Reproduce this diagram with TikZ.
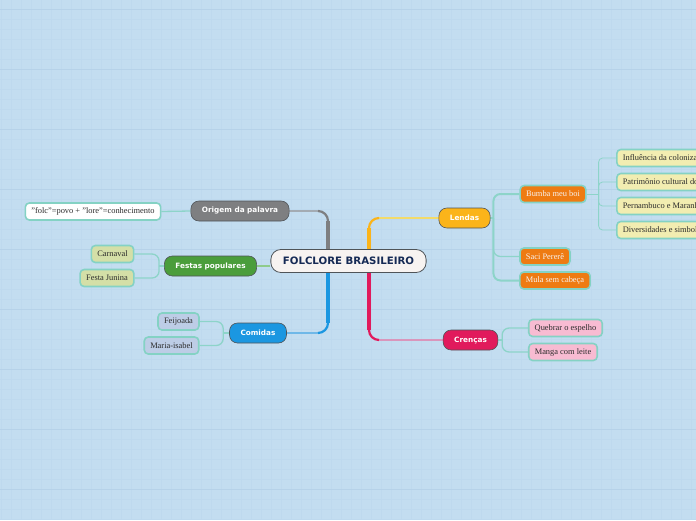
\documentclass[tikz,border=0pt]{standalone}
\usepackage{fontspec}
\setmainfont{Liberation Serif}
\newfontfamily\topicfont{DejaVu Sans}
\usetikzlibrary{positioning, backgrounds}
\definecolor{PaperBlue}{HTML}{C3DDF0}
\definecolor{GridMinor}{HTML}{BED9EE}
\definecolor{GridMajor}{HTML}{B6D2E9}
\definecolor{RootFill}{HTML}{F7F3F1}
\definecolor{RootText}{HTML}{152A55}
\definecolor{EdgeDark}{HTML}{4F5458}
\definecolor{TopicGray}{HTML}{7E7F81}
\definecolor{TopicGreen}{HTML}{4A9D3B}
\definecolor{TopicBlue}{HTML}{1B97E1}
\definecolor{TopicYellow}{HTML}{FBB41A}
\definecolor{TopicRed}{HTML}{E11A5C}
\definecolor{LeafEdge}{HTML}{84D2C4}
\definecolor{LeafLine}{HTML}{8DD4C9}
\definecolor{LeafOrange}{HTML}{EE7B12}
\definecolor{LeafCream}{HTML}{F2EDB1}
\definecolor{LeafGreen}{HTML}{D4DFA7}
\definecolor{LeafBlue}{HTML}{BDCDE6}
\definecolor{LeafPink}{HTML}{F8BBD2}
\definecolor{LeafText}{HTML}{2B2B2B}
\definecolor{GrayThin}{HTML}{A3ABB3}
\definecolor{GreenThin}{HTML}{8FCB8C}
\definecolor{BlueThin}{HTML}{6FB8E8}
\definecolor{YellowThin}{HTML}{F3DB6A}
\definecolor{RedThin}{HTML}{D996BC}
\tikzset{
  rootbox/.style={draw=EdgeDark, thick, rounded corners=10pt, fill=RootFill, text=RootText, minimum height=23pt, inner xsep=12pt, font=\topicfont\bfseries\fontsize{10.2}{12}\selectfont},
  topic/.style={draw=EdgeDark, semithick, rounded corners=8pt, text=white, minimum height=20pt, inner xsep=11pt, font=\topicfont\bfseries\fontsize{7.3}{8}\selectfont},
  graybox/.style={topic, fill=TopicGray},
  greenbox/.style={topic, fill=TopicGreen},
  bluebox/.style={topic, fill=TopicBlue},
  yellowbox/.style={topic, fill=TopicYellow},
  redbox/.style={topic, fill=TopicRed},
  leaf/.style={draw=LeafEdge, line width=1.6pt, rounded corners=4pt, text=LeafText, minimum height=17pt, inner xsep=6pt, inner ysep=0pt, font=\fontsize{8.4}{9}\selectfont},
  whiteleaf/.style={leaf, fill=white},
  greenleaf/.style={leaf, fill=LeafGreen},
  blueleaf/.style={leaf, fill=LeafBlue},
  orangeleaf/.style={leaf, fill=LeafOrange, text=RootFill},
  creamleaf/.style={leaf, fill=LeafCream, anchor=west},
  pinkleaf/.style={leaf, fill=LeafPink},
  leafline/.style={draw=LeafLine, line width=1.3pt, rounded corners=7pt},
  thinleaf/.style={draw=LeafLine, line width=0.8pt, rounded corners=4pt},
  branch/.style={line width=1.4pt},
  trunk/.style={line width=3.2pt},
  elbow/.style={line width=2.2pt, rounded corners=10pt}
}

\begin{document}
\begin{tikzpicture}[x=1pt, y=-1pt]
\useasboundingbox (0,0) rectangle (696,520);
\clip (0,0) rectangle (696,520);

% centre and main topics
\node[rootbox] (root) at (348.5,261) {FOLCLORE BRASILEIRO};
\node[graybox] (origem) at (240,211) {Origem da palavra};
\node[greenbox] (festas) at (210.5,266) {Festas populares};
\node[bluebox] (comidas) at (258,333) {Comidas};
\node[yellowbox] (lendas) at (464.5,218) {Lendas};
\node[redbox] (crencas) at (470.5,340) {Crenças};

% leaves
\node[whiteleaf] (folc) at (93,211.5) {"folc"=povo + "lore"=conhecimento};
\node[greenleaf] (carnaval) at (112.5,254) {Carnaval};
\node[greenleaf] (junina) at (107,278) {Festa Junina};
\node[blueleaf] (feijoada) at (178.5,321.5) {Feijoada};
\node[blueleaf] (mariaisabel) at (171.5,345.5) {Maria-isabel};
\node[orangeleaf] (bumba) at (553,194) {Bumba meu boi};
\node[orangeleaf] (saci) at (545,256.5) {Saci Pererê};
\node[orangeleaf] (mula) at (555,280.5) {Mula sem cabeça};
\node[creamleaf] (influencia) at (616,158) {Influência da colonização};
\node[creamleaf] (patrimonio) at (616,182) {Patrimônio cultural do Brasil};
\node[creamleaf] (pernambuco) at (616,206) {Pernambuco e Maranhão};
\node[creamleaf] (diversidades) at (616,230) {Diversidades e simbologias};
\node[pinkleaf] (quebrar) at (565.5,328) {Quebrar o espelho};
\node[pinkleaf] (manga) at (563,352) {Manga com leite};

% corners of the main branches
\coordinate (graycorner) at ([xshift=-20.5pt]root.north |- origem.east);
\coordinate (bluecorner) at ([xshift=-20.5pt]root.south |- comidas.east);
\coordinate (yellowcorner) at ([xshift=20.5pt]root.north |- lendas.west);
\coordinate (redcorner) at ([xshift=20.5pt]root.south |- crencas.west);

\begin{scope}[on background layer]
% paper with grid
\fill[PaperBlue] (0,0) rectangle (696,520);
\foreach \gx in {1,11,...,691}
  \draw[GridMinor, line width=0.5pt] (\gx,0) -- (\gx,520);
\foreach \gy in {-1,9,...,519}
  \draw[GridMinor, line width=0.5pt] (0,\gy) -- (696,\gy);
\foreach \gy in {9,69,...,519}
  \draw[GridMajor, line width=0.7pt] (0,\gy) -- (696,\gy);

% branches from the centre
\draw[branch, GrayThin] ([xshift=-10pt]graycorner) -- (origem.east);
\draw[trunk, TopicGray] ([xshift=-20.5pt]root.north) -- ([yshift=-10pt]graycorner);
\draw[elbow, TopicGray] ([yshift=-10pt]graycorner) |- ([xshift=-10pt]graycorner);
\draw[branch, BlueThin] ([xshift=-10pt]bluecorner) -- (comidas.east);
\draw[trunk, TopicBlue] ([xshift=-20.5pt]root.south) -- ([yshift=10pt]bluecorner);
\draw[elbow, TopicBlue] ([yshift=10pt]bluecorner) |- ([xshift=-10pt]bluecorner);
\draw[branch, YellowThin] ([xshift=10pt]yellowcorner) -- (lendas.west);
\draw[trunk, TopicYellow] ([xshift=20.5pt]root.north) -- ([yshift=-10pt]yellowcorner);
\draw[elbow, TopicYellow] ([yshift=-10pt]yellowcorner) |- ([xshift=10pt]yellowcorner);
\draw[branch, RedThin] ([xshift=10pt]redcorner) -- (crencas.west);
\draw[trunk, TopicRed] ([xshift=20.5pt]root.south) -- ([yshift=10pt]redcorner);
\draw[elbow, TopicRed] ([yshift=10pt]redcorner) |- ([xshift=10pt]redcorner);
\draw[line width=1.4pt, GreenThin] (festas.east) -- (festas.east -| root.west);

% branches to the leaves
\draw[leafline] (origem.west) -- (folc.east);
\coordinate (festastrunk) at ([xshift=-5pt]festas.west);
\draw[leafline] (festas.west) -- (festastrunk);
\draw[leafline] (festastrunk) |- (carnaval.east);
\draw[leafline] (festastrunk) |- (junina.east);
\coordinate (comidastrunk) at ([xshift=-6pt]comidas.west);
\draw[leafline] (comidas.west) -- (comidastrunk);
\draw[leafline] (comidastrunk) |- (feijoada.east);
\draw[leafline] (comidastrunk) |- (mariaisabel.east);
\coordinate (lendastrunk) at ([xshift=3pt]lendas.east);
\draw[leafline, line width=2pt] (lendas.east) -- (lendastrunk);
\draw[leafline, line width=2pt] (lendastrunk) |- (bumba.west);
\draw[leafline] (lendastrunk) |- (saci.west);
\draw[leafline, line width=2pt] (lendastrunk) |- (mula.west);
\coordinate (bumbatrunk) at ([xshift=12pt]bumba.east);
\draw[thinleaf] (bumba.east) -- (bumbatrunk);
\foreach \leafname in {influencia, patrimonio, pernambuco, diversidades}
  \draw[thinleaf] (bumbatrunk) |- (\leafname.west);
\coordinate (crencastrunk) at ([xshift=4pt]crencas.east);
\draw[leafline] (crencas.east) -- (crencastrunk);
\draw[leafline] (crencastrunk) |- (quebrar.west);
\draw[leafline] (crencastrunk) |- (manga.west);
\end{scope}
\end{tikzpicture}
\end{document}
